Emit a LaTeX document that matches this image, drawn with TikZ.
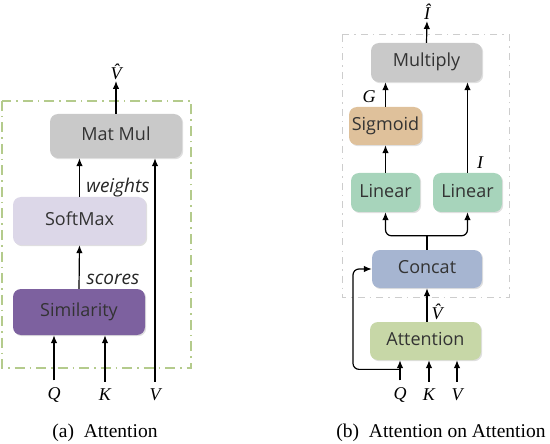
\documentclass[tikz,border=0pt]{standalone}
\usepackage{fontspec}
\setmainfont{Liberation Serif}
\setsansfont{Open Sans}
\usetikzlibrary{arrows.meta,shadows}

\definecolor{mgrey}{HTML}{C9C9C9}
\definecolor{mlila}{HTML}{DCD7E8}
\definecolor{mpurple}{HTML}{7D619F}
\definecolor{sigbrown}{HTML}{DFC19B}
\definecolor{lingreen}{HTML}{A7D4BB}
\definecolor{catblue}{HTML}{A6B5D1}
\definecolor{attgreen}{HTML}{C7D7A7}
\definecolor{dashgreen}{HTML}{B4CB8C}
\definecolor{dashgrey}{HTML}{CDCDCD}

\tikzset{
  blok/.style={rounded corners=8pt, inner sep=0pt, text=black!80,
    font=\sffamily\fontsize{18}{20}\selectfont, text height=12.5pt, text depth=3.5pt,
    drop shadow={shadow xshift=1.2pt,shadow yshift=-1.2pt,opacity=0.25}},
  lbl/.style={font=\itshape\fontsize{18}{20}\selectfont, inner sep=1pt},
  inp/.style={lbl, inner ysep=7pt},
  tekst/.style={font=\sffamily\itshape\fontsize{19}{21}\selectfont, text=black!85},
  pil/.style={-{Latex[length=8pt,width=6.5pt]}, line width=1.2pt},
  gronramme/.style={dashgreen, line width=1.5pt, dash pattern=on 10pt off 5pt on 1.5pt off 5pt},
  graaramme/.style={dashgrey, line width=1pt, dash pattern=on 7pt off 5pt on 1.5pt off 5pt}
}

\begin{document}
\begin{tikzpicture}[x=1pt,y=-1pt]
  \useasboundingbox (0,0) rectangle (550,444);
  \draw[gronramme] (2,101) rectangle (191,368);
  \draw[graaramme] (342,35) rectangle (509,297);

  \node[blok,fill=mgrey,minimum width=132pt,minimum height=44pt] (matmul) at (116,136) {Mat Mul};
  \node[blok,fill=mlila,minimum width=133pt,minimum height=48pt] (softmax) at (79.5,221) {SoftMax};
  \node[blok,fill=mpurple,minimum width=132pt,minimum height=46pt] (sim) at (79,312) {Similarity};
  \node[lbl,anchor=south] (vhat) at (116,81) {\^{V}};
  \node[tekst] (wlab) at (118,188) {weights};
  \node[tekst] (slab) at (113,279) {scores};
  \node[inp] (qa) at (54,395) {Q};
  \node[inp] (ka) at (105,395) {K};
  \node[inp] (va) at (155,395) {V};
  \draw[pil] (matmul.north) -- (vhat.south);
  \draw[pil] (softmax.north) -- (softmax.north |- matmul.south);
  \draw[pil] (sim.north) -- (softmax.south);
  \draw[pil] (qa.north) -- (qa.north |- sim.south);
  \draw[pil] (ka.north) -- (ka.north |- sim.south);
  \draw[pil] (va.north) -- (va.north |- matmul.south);

  \node[blok,fill=mgrey,minimum width=111pt,minimum height=39pt] (mult) at (426.5,62.5) {Multiply};
  \node[blok,fill=sigbrown,minimum width=73pt,minimum height=38pt] (sig) at (385.5,126) {Sigmoid};
  \node[blok,fill=lingreen,minimum width=69pt,minimum height=39pt] (lina) at (385.5,192.5) {Linear};
  \node[blok,fill=lingreen,minimum width=69pt,minimum height=39pt] (linb) at (467.5,192.5) {Linear};
  \node[blok,fill=catblue,minimum width=110pt,minimum height=38pt] (concat) at (427,269) {Concat};
  \node[blok,fill=attgreen,minimum width=111pt,minimum height=38pt] (att) at (425.5,341) {Attention};
  \node[lbl,anchor=south] (ihat) at (427,21) {\^{I}};
  \node[lbl] (glab) at (369,97) {G};
  \node[lbl] (ilab) at (480,163) {I};
  \node[lbl] (vhb) at (437,312) {\^{V}};
  \node[inp] (qb) at (400,395) {Q};
  \node[inp] (kb) at (429,395) {K};
  \node[inp] (vb) at (457,395) {V};
  \draw[pil] (mult.north) -- (ihat.south);
  \draw[pil] (sig.north) -- (sig.north |- mult.south);
  \draw[pil] (lina.north) -- (sig.south);
  \draw[pil] (linb.north) -- (linb.north |- mult.south);
  \draw[line width=1.2pt] (concat.north) -- ++(0,-14) coordinate (split);
  \draw[pil,rounded corners=6pt] (split) -| (lina.south);
  \draw[pil,rounded corners=6pt] (split) -| (linb.south);
  \draw[pil] (concat.south |- att.north) -- (concat.south);
  \draw[pil] (qb.north) -- (qb.north |- att.south);
  \draw[pil] (kb.north) -- (kb.north |- att.south);
  \draw[pil] (vb.north) -- (vb.north |- att.south);
  \draw[pil,rounded corners=6pt] (qb.north) ++(0,-11) -- ++(-47,0) |- (concat.west);

  \node[font=\fontsize{19.5}{22}\selectfont] (capa) at (105,433) {(a)~~Attention};
  \node[font=\fontsize{19.5}{22}\selectfont] (capb) at (441,433) {(b)~~Attention on Attention};
\end{tikzpicture}
\end{document}
